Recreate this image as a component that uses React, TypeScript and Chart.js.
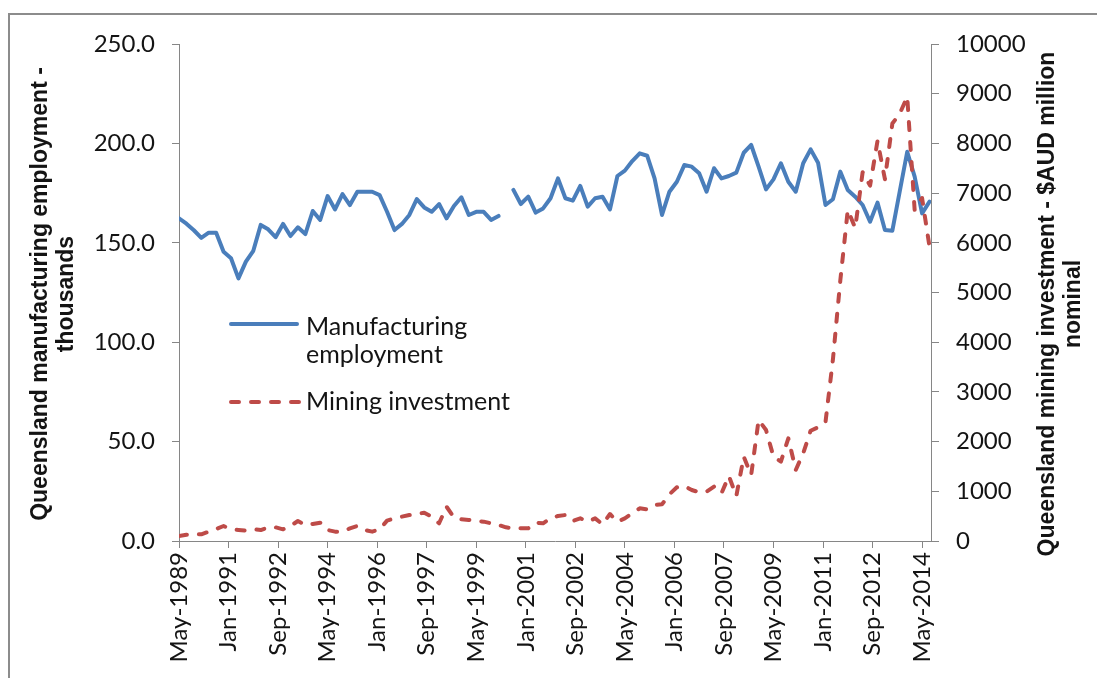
import React, { useEffect, useRef } from 'react';
import { Chart, registerables } from 'chart.js';

Chart.register(...registerables);

// ---- data (quarterly, starting May-1989; x = months since May-1989) ----
const MONTHS_PER_POINT = 3;

const xTickLabels = [
  'May-1989', 'Jan-1991', 'Sep-1992', 'May-1994', 'Jan-1996', 'Sep-1997',
  'May-1999', 'Jan-2001', 'Sep-2002', 'May-2004', 'Jan-2006', 'Sep-2007',
  'May-2009', 'Jan-2011', 'Sep-2012', 'May-2014',
];
const X_TICK_STEP = 20; // months between labelled ticks

// Queensland manufacturing employment (thousands), null = no data
const manufacturing: (number | null)[] = [
  162.3, 159.6, 156.3, 152.5, 155.1, 155.1, 145.5, 142.2, 132.1, 140.5,
  146.0, 159.0, 156.8, 152.8, 159.5, 153.4, 157.8, 154.4, 166.0, 161.5,
  173.5, 166.8, 174.5, 169.0, 175.7, 175.7, 175.7, 174.0, 165.6, 156.4,
  159.5, 164.0, 172.0, 167.8, 165.6, 169.5, 162.3, 168.5, 172.9, 164.0,
  165.6, 165.6, 161.5, 163.5, null, 176.6, 169.5, 173.2, 165.2, 167.3,
  172.4, 182.4, 172.4, 171.2, 178.6, 168.2, 172.4, 173.2, 166.8, 183.6,
  186.3, 191.1, 195.0, 193.8, 182.4, 164.0, 175.7, 180.7, 189.1, 188.3,
  185.0, 175.7, 187.5, 182.4, 183.6, 185.3, 195.3, 199.2, 188.3, 176.9,
  181.9, 190.0, 180.7, 175.7, 190.0, 197.0, 190.3, 169.0, 171.9, 185.8,
  176.6, 173.2, 169.0, 160.6, 170.2, 156.4, 156.1, 176.0, 195.8, 183.3,
  164.8, 170.7,
];

// Queensland mining investment ($AUD million nominal)
const mining: number[] = [
  100, 127, 134, 134, 188, 241, 302, 235, 221, 208,
  235, 221, 275, 275, 235, 302, 402, 322, 342, 369,
  221, 188, 188, 255, 302, 221, 188, 235, 409, 456,
  490, 523, 543, 570, 490, 356, 691, 476, 436, 423,
  402, 389, 356, 322, 275, 255, 255, 255, 369, 356,
  456, 503, 523, 402, 456, 389, 456, 335, 543, 389,
  456, 557, 657, 637, 724, 738, 939, 1080, 1107, 1026,
  979, 992, 1093, 959, 1308, 905, 1697, 1328, 2435, 2233,
  1697, 1596, 2066, 1429, 1764, 2219, 2287, 2390, 3650, 5250,
  6660, 6300, 7420, 7150, 8050, 7280, 8400, 8600, 8940, 6660,
  6900, 5920,
];

const seriesNames = ['Manufacturing employment', 'Mining investment'];
const leftTitle = ['Queensland manufacturing employment -', 'thousands'];
const rightTitle = ['Queensland mining investment - $AUD million', 'nominal'];

const BLUE = '#4A7EBB';
const RED = '#BE4B48';
const AXIS = '#868686';
const TEXT = '#141414';
const FONT = 'Lato';
const TITLE_FONT = '"Liberation Sans", Arial, sans-serif';

const W = 1097;
const H = 678;

const decor = {
  id: 'decor',
  afterDraw(chart: any) {
    const ctx = chart.ctx as CanvasRenderingContext2D;
    ctx.save();
    // outer frame (left + top)
    ctx.strokeStyle = '#8c8c8c';
    ctx.lineWidth = 2;
    ctx.beginPath();
    ctx.moveTo(9, H);
    ctx.lineTo(9, 14);
    ctx.lineTo(W, 14);
    ctx.stroke();

    // axis titles
    ctx.fillStyle = TEXT;
    ctx.font = `bold 23px ${TITLE_FONT}`;
    ctx.textAlign = 'center';
    ctx.textBaseline = 'middle';
    const drawTitle = (lines: string[], cx: number, cy: number) => {
      lines.forEach((t, i) => {
        ctx.save();
        ctx.translate(cx + i * 26, cy);
        ctx.rotate(-Math.PI / 2);
        ctx.fillText(t, 0, 0);
        ctx.restore();
      });
    };
    drawTitle(leftTitle, 41, 294);
    drawTitle(rightTitle, 1048, 304);

    // legend
    ctx.lineCap = 'round';
    ctx.lineWidth = 4;
    ctx.strokeStyle = BLUE;
    ctx.setLineDash([]);
    ctx.beginPath();
    ctx.moveTo(231, 324);
    ctx.lineTo(297, 324);
    ctx.stroke();
    ctx.strokeStyle = RED;
    ctx.setLineDash([8, 12]);
    ctx.beginPath();
    ctx.moveTo(231, 402);
    ctx.lineTo(299, 402);
    ctx.stroke();
    ctx.setLineDash([]);

    ctx.font = `25px ${FONT}`;
    ctx.textAlign = 'left';
    ctx.textBaseline = 'alphabetic';
    const words = seriesNames[0].split(' ');
    ctx.fillText(words[0], 306, 335);
    ctx.fillText(words.slice(1).join(' '), 306, 363);
    ctx.fillText(seriesNames[1], 306, 410);
    ctx.restore();
  },
};

export default function App() {
  const ref = useRef<HTMLCanvasElement | null>(null);

  useEffect(() => {
    if (!ref.current) return;
    const tickFont = { family: FONT, size: 24 };
    const chart = new Chart(ref.current, {
      type: 'line',
      data: {
        datasets: [
          {
            label: seriesNames[0],
            data: manufacturing.map((v, i) => ({ x: i * MONTHS_PER_POINT, y: v })),
            yAxisID: 'y',
            borderColor: BLUE,
            borderWidth: 4,
            borderJoinStyle: 'round',
            borderCapStyle: 'round',
            pointRadius: 0,
            tension: 0,
            spanGaps: false,
            order: 1,
          },
          {
            label: seriesNames[1],
            data: mining.map((v, i) => ({ x: i * MONTHS_PER_POINT, y: v })),
            yAxisID: 'y1',
            borderColor: RED,
            borderWidth: 4,
            borderDash: [8, 12],
            borderJoinStyle: 'round',
            borderCapStyle: 'round',
            pointRadius: 0,
            tension: 0,
            order: 0,
          },
        ],
      },
      options: {
        responsive: false,
        animation: false,
        devicePixelRatio: 1,
        layout: { padding: { top: 44, left: 0, right: 0, bottom: 0 } },
        plugins: { legend: { display: false }, tooltip: { enabled: false } },
        scales: {
          x: {
            type: 'linear',
            position: 'bottom',
            min: 0,
            max: 303.6,
            afterFit: (s: any) => { s.height = H - 541; },
            ticks: {
              stepSize: X_TICK_STEP,
              includeBounds: false,
              autoSkip: false,
              minRotation: 90,
              maxRotation: 90,
              padding: 4,
              color: TEXT,
              font: tickFont,
              callback: (v: any) => xTickLabels[Math.round(Number(v) / X_TICK_STEP)] ?? '',
            },
            grid: { drawOnChartArea: false, drawTicks: true, tickLength: 7, color: AXIS, lineWidth: 1 },
            border: { display: true, color: AXIS, width: 1 },
          },
          y: {
            type: 'linear',
            position: 'left',
            min: 0,
            max: 250,
            afterFit: (s: any) => { s.width = 179; },
            ticks: {
              stepSize: 50,
              padding: 17,
              color: TEXT,
              font: tickFont,
              callback: (v: any) => Number(v).toFixed(1),
            },
            grid: { drawOnChartArea: false, drawTicks: true, tickLength: 7, color: AXIS, lineWidth: 1 },
            border: { display: true, color: AXIS, width: 1 },
          },
          y1: {
            type: 'linear',
            position: 'right',
            min: 0,
            max: 10000,
            afterFit: (s: any) => { s.width = W - 931; },
            ticks: {
              stepSize: 1000,
              padding: 17,
              color: TEXT,
              font: tickFont,
              callback: (v: any) => String(v),
            },
            grid: { drawOnChartArea: false, drawTicks: true, tickLength: 8, color: AXIS, lineWidth: 1 },
            border: { display: true, color: AXIS, width: 1 },
          },
        },
      },
      plugins: [decor],
    } as any);
    return () => chart.destroy();
  }, []);

  return (
    <div style={{ position: 'fixed', left: 0, top: 0, width: W, height: H, background: '#fff' }}>
      <canvas ref={ref} width={W} height={H} style={{ width: W, height: H, display: 'block' }} />
    </div>
  );
}
